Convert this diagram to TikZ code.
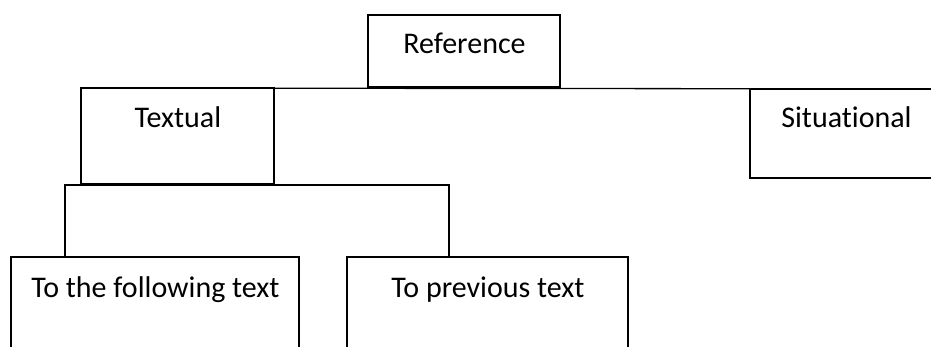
\documentclass[tikz,border=0pt]{standalone}
\usepackage{fontspec}
\setmainfont[Ligatures=NoCommon]{Carlito}
\begin{document}
\begin{tikzpicture}[x=1pt,y=-1pt,
  box/.style={draw, line width=1.3pt, rectangle, inner sep=0pt, outer sep=0pt},
  lbl/.style={anchor=base, inner sep=0pt, font=\fontsize{30}{35}\selectfont},
  conn/.style={draw, line width=1.3pt}]
\useasboundingbox (0,0) rectangle (931,347);
\clip (0,0) rectangle (931,347);
\fill[white] (0,0) rectangle (931,347);
% boxes
\node[box, minimum width=192pt, minimum height=72pt] (ref) at (464,51) {};
\node[box, minimum width=193pt, minimum height=96pt] (tex) at (177.5,136) {};
\node[box, minimum width=250pt, minimum height=89pt] (sit) at (875,133.5) {};
\node[box, minimum width=288pt, minimum height=123pt] (fol) at (155,318.5) {};
\node[box, minimum width=281pt, minimum height=123pt] (prev) at (487.5,318.5) {};
% labels
\node[lbl] (tref) at (464.5,54) {Reference};
\node[lbl] (ttex) at (178,128) {Textual};
\node[lbl] (tsit) at (846.5,128) {Situational};
\node[lbl] (tfol) at (155.5,297) {To the following text};
\node[lbl] (tprev) at (488,297) {To previous text};
% connectors
\draw[conn] (tex.north west) -- (sit.north east);
\coordinate (j1) at (65,185);
\coordinate (j2) at (449,185);
\draw[conn] (j1 |- fol.north) -- (j1) -- (j2) -- (j2 |- prev.north);
\end{tikzpicture}
\end{document}
